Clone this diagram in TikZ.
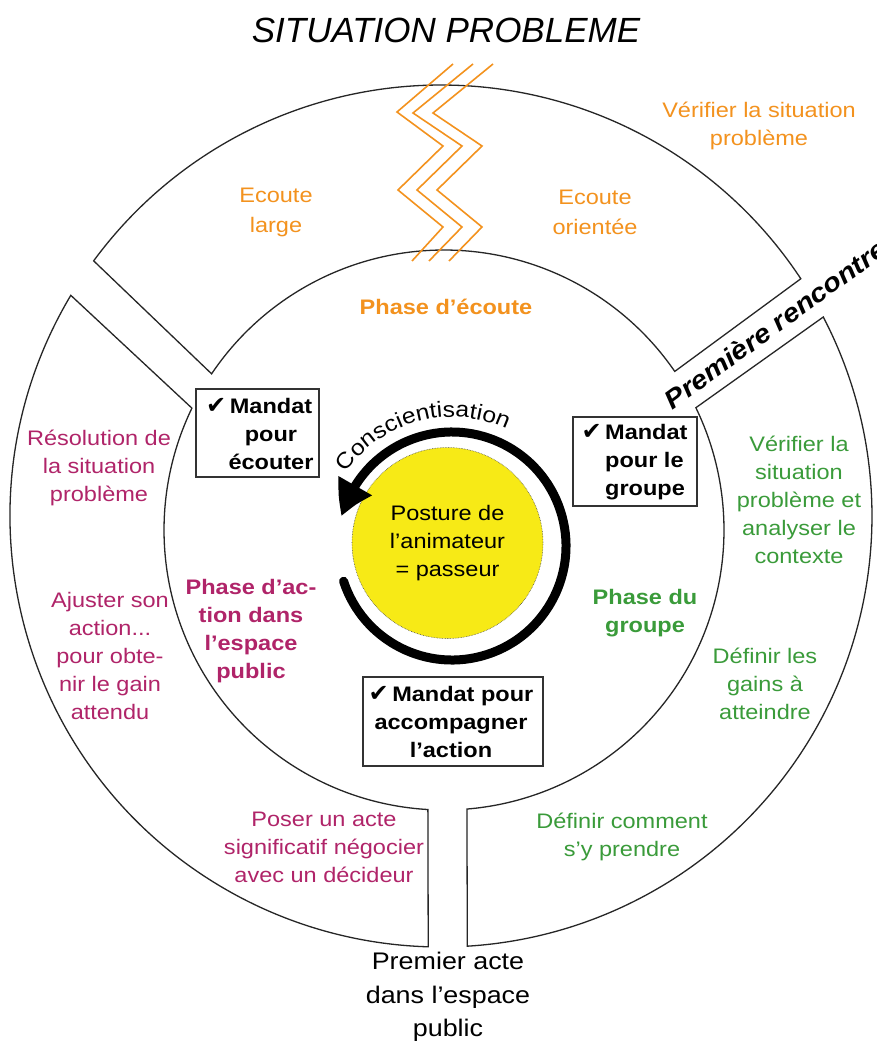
\documentclass[tikz,border=0pt]{standalone}
\usepackage{fontspec}
\setmainfont{Liberation Sans}[FakeStretch=1.12]
\newfontfamily\titlefont{Liberation Sans}
\newfontfamily\symfont{DejaVu Sans}
\usetikzlibrary{arrows.meta,bending,decorations.text}
\definecolor{cOrange}{RGB}{243,146,30}
\definecolor{cMag}{RGB}{176,36,105}
\definecolor{cGreen}{RGB}{58,155,58}
\definecolor{cYellow}{RGB}{247,234,22}
\newcommand\chk{{\symfont\fontsize{24}{28}\selectfont ✔}}
\tikzset{
  seg/.style={draw=black!85, line width=1.3pt},
  zig/.style={draw=cOrange, line width=1.6pt},
  txt/.style={align=center, inner sep=0pt, font=\fontsize{21}{28}\selectfont},
  btxt/.style={align=center, inner sep=0pt, font=\fontsize{21}{28}\selectfont\bfseries},
  mandat/.style={draw=black!80, line width=1.2pt, inner sep=0pt},
}
\begin{document}
\begin{tikzpicture}[x=1pt,y=1pt]
\useasboundingbox (0,0) rectangle (877,-1044);
\fill[white] (0,0) rectangle (877,-1044);
\coordinate (O) at (441,-516);
\coordinate (I) at (444,-530);
\coordinate (R) at (452,-546);

% ring segments
\draw[seg] ([shift={(143.7:431)}]O) arc[start angle=143.7, end angle=33.4, radius=431]
  -- ([shift={(34.5:280)}]I) arc[start angle=34.5, end angle=146.1, radius=280] -- cycle;
\draw[seg] ([shift={(149.2:431)}]O) arc[start angle=149.2, end angle=268.3, radius=431]
  -- ([shift={(266.7:280)}]I) arc[start angle=266.7, end angle=154.2, radius=280] -- cycle;
\draw[seg] ([shift={(27.5:431)}]O) arc[start angle=27.5, end angle=-86.5, radius=431]
  -- ([shift={(-85.3:280)}]I) arc[start angle=-85.3, end angle=25.9, radius=280] -- cycle;

% zigzag
\draw[zig] (453,-64) -- (397,-112) -- (443,-146) -- (398,-190) -- (443,-227) -- (412,-261);
\draw[zig] (473,-64) -- (413,-113) -- (462,-146) -- (417,-190) -- (462,-227) -- (429,-261);
\draw[zig] (493,-64) -- (433,-113) -- (482,-146) -- (437,-190) -- (482,-227) -- (449,-261);

% title
\node[inner sep=0pt, font=\titlefont\itshape\fontsize{35}{42}\selectfont] (title) at (446,-30) {SITUATION PROBLEME};

% orange texts
\node[txt, text=cOrange] (verif1) at (759,-126) {Vérifier la situation\\problème};
\node[txt, text=cOrange, font=\fontsize{21}{30}\selectfont] (ecl) at (276,-212) {Ecoute\\large};
\node[txt, text=cOrange, font=\fontsize{21}{30}\selectfont] (eco) at (595,-212) {Ecoute\\orientée};
\node[btxt, text=cOrange] (phec) at (446,-307) {Phase d’écoute};

% premiere rencontre
\node[inner sep=0pt, font=\fontsize{26}{30}\selectfont\bfseries\itshape, rotate=36] (premiere) at (775,-324) {Première rencontre};

% mandat boxes
\node[mandat, minimum width=123pt, minimum height=88pt] (m1) at (257.5,-433) {};
\node[btxt] (m1t) at (271,-434) {\llap{\chk\,}Mandat\\pour\\écouter};
\node[mandat, minimum width=124pt, minimum height=89pt] (m2) at (635,-461.5) {};
\node[btxt, align=left, anchor=west] (m2t) at (605,-462) {\llap{\chk\,}Mandat\\pour le\\groupe};
\node[mandat, minimum width=180pt, minimum height=89pt] (m3) at (453,-721.5) {};
\node[btxt] (m3t) at (451,-722) {\chk\,Mandat pour\\accompagner\\l’action};

% centre
\node[circle, fill=cYellow, draw=black!70, densely dotted, line width=0.6pt, minimum size=191pt, inner sep=0pt,
      align=center, font=\fontsize{21}{28}\selectfont] (core) at (447.5,-543) {Posture de\\l'animateur\\= passeur};
\draw[line width=9pt, line cap=round, -{Triangle[length=34pt,width=36pt,bend]}]
  ([shift={(-162:114)}]R) arc[start angle=-162, end angle=165, radius=114];
\path[decorate, decoration={text along path, text align=center,
   text={|\fontsize{22}{26}\selectfont|Conscientisation}}]
  ([shift={(152:129)}]R) arc[start angle=152, end angle=58, radius=129];

% left texts
\node[txt, text=cMag] (reso) at (99,-468) {Résolution de\\la situation\\problème};
\node[txt, text=cMag] (ajust) at (110,-655.5) {Ajuster son\\action...\\pour obte-\\nir le gain\\attendu};
\node[btxt, text=cMag] (phact) at (251,-631.5) {Phase d’ac-\\tion dans\\l’espace\\public};
\node[txt, text=cMag] (poser) at (324,-847.5) {Poser un acte\\significatif négocier\\avec un décideur};

% right texts
\node[txt, text=cGreen] (verif2) at (799,-499.5) {Vérifier la\\situation\\problème et\\analyser le\\contexte};
\node[btxt, text=cGreen] (phgr) at (645,-613) {Phase du\\groupe};
\node[txt, text=cGreen] (gains) at (765,-684) {Définir les\\gains à\\atteindre};
\node[txt, text=cGreen] (comment) at (622,-837) {Définir comment\\s’y prendre};

% bottom
\node[txt, font=\fontsize{24}{33.5}\selectfont] (acte) at (448,-997) {Premier acte\\dans l’espace\\public};
\end{tikzpicture}
\end{document}
